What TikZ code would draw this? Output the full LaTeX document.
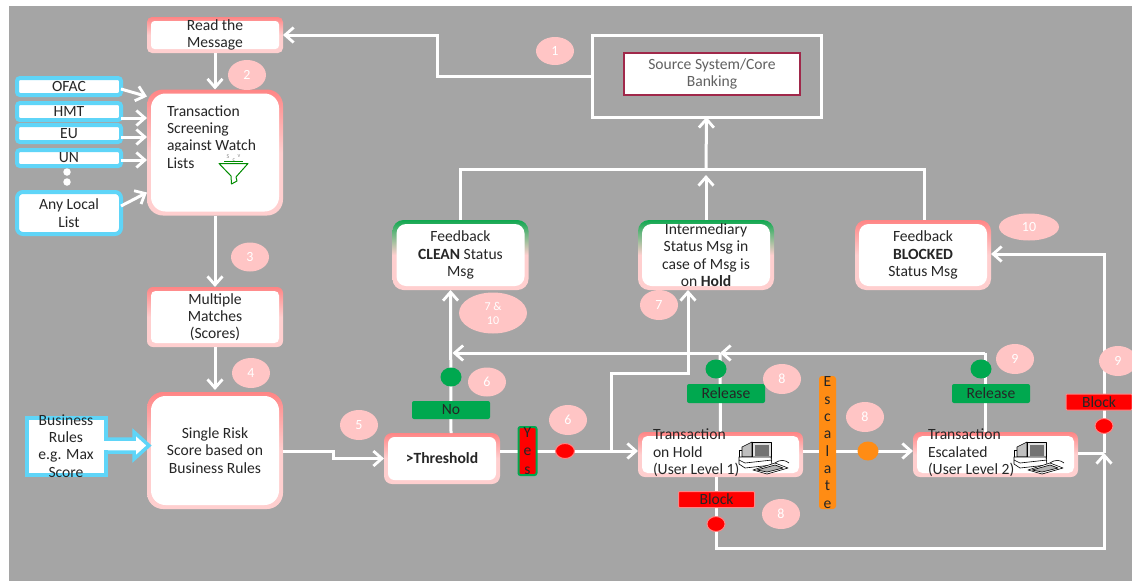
\documentclass[tikz,border=0pt]{standalone}
\usepackage{fontspec}
\setmainfont{Carlito}
\usetikzlibrary{arrows.meta,shapes.geometric}
\definecolor{bggray}{HTML}{A5A5A5}
\definecolor{pinkbub}{HTML}{FFC5C5}
\definecolor{redtop}{HTML}{FF8585}
\definecolor{pinklow}{HTML}{FFCFCF}
\definecolor{greentop}{HTML}{10A850}
\definecolor{listblue}{HTML}{5FD5F8}
\definecolor{taggreen}{HTML}{00A84F}
\definecolor{orangeb}{HTML}{FF8C14}
\definecolor{maroon}{HTML}{A0284A}
\definecolor{txt}{HTML}{262626}
\tikzset{
  every node/.style={font=\fontsize{15.6}{17.3}\selectfont,text=txt,inner sep=0pt,outer sep=0pt,align=center},
  softbox/.style n args={3}{minimum width=#1,minimum height=#2,rounded corners=#3,
    path picture={\fill[white,rounded corners=#3-1.5pt]
      ([xshift=4pt,yshift=-4pt]path picture bounding box.north west) rectangle
      ([xshift=-4pt,yshift=4pt]path picture bounding box.south east);}},
  redbox/.style={top color=redtop,bottom color=pinklow,middle color=pinklow},
  greenbox/.style={top color=greentop,bottom color=pinklow,middle color=pinklow},
  listbox/.style={draw=listblue,line width=4pt,fill=white,rounded corners=3pt,minimum width=104pt},
  flow/.style={draw=white,line width=3pt,line join=miter},
  tip/.style={flow,-{Straight Barb[length=8.5pt,width=15pt,line width=2.8pt]}},
  bub/.style={ellipse,fill=pinkbub,text=white,font=\fontsize{14}{15}\selectfont},
  gtag/.style={fill=taggreen,rounded corners=2pt,text=black!85},
  rtag/.style={fill=red,draw=redtop,line width=1pt,rounded corners=1pt,text=black!85},
  gdot/.style={ellipse,fill=taggreen,minimum width=21pt,minimum height=19pt},
  rdot/.style={ellipse,fill=red,draw=redtop,line width=1pt,minimum width=18pt,minimum height=15pt},
  pcline/.style={draw=black,line width=.6pt,line join=round},
}
\newcommand{\pcicon}[1]{%
  \begin{scope}[shift={(#1.center)},shift={(4.5,-24.5)}]
    \draw[pcline,fill=white] (14,20) -- (18,20) -- (18,27) -- (14,27) -- cycle;
    \draw[pcline,fill=black!25] (17,17) -- (27,12) -- (27,27) -- (17,27) -- cycle;
    \draw[pcline,fill=black!12] (27,12) rectangle (46,28);
    \fill[black!55] (30,15) rectangle (44,26);
    \draw[pcline,fill=white] (14,27) -- (46,27) -- (47,35) -- (20,38) -- (14,34) -- cycle;
    \draw[pcline] (14,30) -- (20,33) -- (47,30);
    \draw[pcline,fill=white] (28,40) -- (50,33) -- (63,38) -- (42,44) -- cycle;
    \draw[pcline,fill=black!30] (32,40) -- (50,35) -- (58,38) -- (42,42) -- cycle;
    \draw[pcline] (50,33) .. controls (56,29) and (60,30) .. (64,33);
  \end{scope}}
\begin{document}
\begin{tikzpicture}[x=1pt,y=-1pt]
\useasboundingbox (0,0) rectangle (1132,581);
\fill[white] (0,0) rectangle (1132,581);
\fill[bggray] (9,6) rectangle (1132,581);

% main boxes
\node[softbox={136pt}{36pt}{5pt},redbox] (read) at (215,35) {Read the\\Message};
\node[softbox={136pt}{126pt}{16pt},redbox] (screen) at (215,152.5) {};
\node[anchor=north west,align=left] (screentxt) at (167,105.5) {Transaction\\Screening\\against Watch\\Lists};
\fill[white] (165,151) rectangle (262,156);
\node[softbox={136pt}{60pt}{6pt},redbox] (multi) at (215,317) {Multiple\\Matches\\(Scores)};
\node[softbox={136pt}{117pt}{16pt},redbox] (single) at (215,450.5) {Single Risk\\Score based on\\Business Rules};
\node[softbox={116pt}{51pt}{8pt},redbox,font=\fontsize{15.6}{17.3}\selectfont\bfseries] (thresh) at (442,458.5) {>Threshold};
\node[softbox={136pt}{70pt}{11pt},greenbox] (clean) at (460.5,255) {Feedback\\\textbf{CLEAN} Status\\Msg};
\node[softbox={136pt}{70pt}{11pt},greenbox] (inter) at (706,255) {Intermediary\\Status Msg in\\case of Msg is\\on \textbf{Hold}};
\node[softbox={136pt}{70pt}{11pt},redbox] (blocked) at (923,255) {Feedback\\\textbf{BLOCKED}\\Status Msg};
\node[softbox={165pt}{45pt}{7pt},redbox] (hold) at (720.5,454.5) {};
\node[softbox={165pt}{45pt}{7pt},redbox] (esc) at (995.5,454.5) {};

% funnel
\draw[draw=green!55!black,line width=1pt,line join=round] (219,163.5) -- (248,163.5) -- (236,177) -- (237,181) -- (231.5,184) -- (231,176) -- cycle;
\draw[draw=green!55!black,line width=1pt] (224,161.5) -- (243,161.5);
\node[text=black!45,font=\fontsize{6}{6}\selectfont] (funS) at (228,157) {S};
\node[text=black!45,font=\fontsize{6}{6}\selectfont] (funC) at (234,160.5) {c};
\node[text=black!45,font=\fontsize{6}{6}\selectfont] (funV) at (239,156.5) {v};

% source
\node[draw=white,line width=3pt,minimum width=229pt,minimum height=82pt] (srcout) at (706.5,76) {};
\node[draw=maroon,line width=2pt,fill=white,minimum width=176pt,minimum height=42pt,text=black!62] (src) at (712,74) {Source System/Core\\Banking};

% list boxes
\node[listbox,minimum height=17pt] (ofac) at (69,86.5) {OFAC};
\node[listbox,minimum height=17pt] (hmt) at (69,111.5) {HMT};
\node[listbox,minimum height=17pt] (eu) at (69,133.5) {EU};
\node[listbox,minimum height=16pt] (un) at (69,158) {UN};
\node[listbox,minimum height=42pt,rounded corners=6pt] (anyl) at (69,213) {Any Local\\List};
\node[circle,fill=white,minimum size=7.5pt] (dota) at (67,172) {};
\node[circle,fill=white,minimum size=7.5pt] (dotb) at (67,182) {};

% connectors
\coordinate (c1a) at (437,76);
\coordinate (c1b) at (437,35);
\draw[tip] (srcout.west) -- (c1a) -- (c1b) -- (read.east);
\draw[tip] (read.south) -- (screen.north);
\draw[tip] (screen.south) -- (multi.north);
\draw[tip] (multi.south) -- ([yshift=2pt]single.north);
\draw[tip] ([yshift=-2.5pt]ofac.east) -- ([yshift=56pt]screen.west);
\draw[tip] ([yshift=-6.5pt]hmt.east) -- ([yshift=34.5pt]screen.west);
\draw[tip] ([yshift=-3.5pt]eu.east) -- ([yshift=15.5pt]screen.west);
\draw[tip] ([yshift=-2pt]un.east) -- ([yshift=-7.5pt]screen.west);
\draw[tip] ([yshift=7pt]anyl.east) -- ([yshift=-40pt]screen.west);
\coordinate (s5a) at (333,451);
\coordinate (s5b) at (333,458.5);
\draw[tip] (single.east |- s5a) -- (s5a) -- (s5b) -- (thresh.west);
\draw[tip] ([xshift=9pt]thresh.north) -- ([xshift=-10pt]clean.south);
\coordinate (yesy) at (611,451);
\draw[tip] ([yshift=7.5pt]thresh.east) -- ([yshift=3.5pt]hold.west);
\coordinate (up1) at (611,373);
\coordinate (up2) at (688,373);
\draw[tip] (yesy) -- (up1) -- (up2) -- ([xshift=-18pt]inter.south);
\coordinate (fbk) at (720,353);
\coordinate (fbk2) at (985,353);
\coordinate (fbkend) at (452.5,353);
\draw[flow] (hold.north) -- (fbk);
\draw[tip] (fbk) -- (fbkend);
\draw[flow] ([xshift=-10.5pt]esc.north) -- (fbk2);
\draw[tip] (fbk2) -- (fbk);
\draw[tip] ([yshift=3.5pt]hold.east) -- ([yshift=3.5pt]esc.west);
\coordinate (bus) at (706,169);
\coordinate (busl) at (460,169);
\coordinate (busr) at (924,169);
\draw[flow] (clean.north -| busl) -- (busl) -- (busr) -- (blocked.north -| busr);
\draw[tip] (inter.north) -- ([yshift=-6pt]bus);
\draw[tip] (bus) -- (srcout.south);
\coordinate (bot1) at (716,548);
\coordinate (bot2) at (1104,548);
\coordinate (joinpt) at (1104,453);
\coordinate (topr) at (1104,254);
\draw[tip] (hold.south -| bot1) -- (bot1) -- (bot2) -- (joinpt);
\draw[flow] (esc.east |- joinpt) -- (joinpt);
\draw[tip] (joinpt) -- (topr) -- (blocked.east |- topr);

% hold / escalated labels
\pcicon{hold}
\pcicon{esc}
\node[anchor=north west,align=left] (holdtxt) at (653,429) {Transaction\\on Hold\\(User Level 1)};
\node[anchor=north west,align=left] (esctxt) at (928,429) {Transaction\\Escalated\\(User Level 2)};

% business rules
\path[draw=listblue,line width=3.5pt,fill=white,line join=miter]
  (108,439) -- (134,439) -- (134,432) -- (149,445.5) -- (134,459) -- (134,452) -- (108,452);
\node[draw=listblue,line width=4pt,fill=white,minimum width=79pt,minimum height=57pt] (rules) at (66.5,446.5) {};
\fill[white] (104,441) rectangle (112,450);
\node (rulestxt) at (66,446) {Business\\Rules\\e.g. Max\\Score};

% tags and dots
\node[gtag,minimum width=78pt,minimum height=18pt] (no) at (451,410) {No};
\node[gdot] (nodot) at (451,377) {};
\node[fill=red,draw=taggreen,line width=2pt,rounded corners=2pt,minimum width=18pt,minimum height=48pt,text=black!85,font=\fontsize{15.6}{18.5}\selectfont] (yes) at (527.5,451) {Y\\e\\s};
\node[rdot,minimum width=19pt] (yesdot) at (565,451) {};
\node[gtag,minimum width=78pt,minimum height=19pt] (rel1) at (726,393.5) {Release};
\node[gdot] (rel1dot) at (716,369) {};
\node[gtag,minimum width=78pt,minimum height=19pt] (rel2) at (991,393.5) {Release};
\node[gdot] (rel2dot) at (981,369) {};
\node[rtag,minimum width=76pt,minimum height=16pt] (blk1) at (716.5,499.5) {Block};
\node[rdot] (blk1dot) at (716,524) {};
\node[rtag,minimum width=66pt,minimum height=16pt] (blk2) at (1099,402) {Block};
\node[rdot] (blk2dot) at (1104,426) {};
\node[fill=orangeb,rounded corners=3pt,minimum width=17pt,minimum height=133pt,text=black!85] (escal) at (827.5,442.5) {E\\s\\c\\a\\l\\a\\t\\e};
\node[ellipse,fill=orangeb,minimum width=21pt,minimum height=19pt] (escdot) at (868,451) {};

% number bubbles
\node[bub,minimum width=38pt,minimum height=28pt] (b1) at (555,51) {1};
\node[bub,minimum width=38pt,minimum height=30pt] (b2) at (247,75) {2};
\node[bub,minimum width=38pt,minimum height=29pt] (b3) at (250,257) {3};
\node[bub,minimum width=38pt,minimum height=30pt] (b4) at (251,373) {4};
\node[bub,minimum width=38pt,minimum height=30pt] (b5) at (359,425) {5};
\node[bub,minimum width=38pt,minimum height=29pt] (b6a) at (487,382) {6};
\node[bub,minimum width=38pt,minimum height=30pt] (b6b) at (568,420) {6};
\node[bub,minimum width=68pt,minimum height=41pt,font=\fontsize{12}{14}\selectfont] (b7a) at (493,313) {7 \&\\10};
\node[bub,minimum width=38pt,minimum height=30pt] (b7b) at (659,305) {7};
\node[bub,minimum width=38pt,minimum height=30pt] (b8a) at (782,379) {8};
\node[bub,minimum width=38pt,minimum height=30pt] (b8b) at (865,417) {8};
\node[bub,minimum width=38pt,minimum height=30pt] (b8c) at (781,514) {8};
\node[bub,minimum width=38pt,minimum height=30pt] (b9a) at (1015,359) {9};
\node[bub,minimum width=38pt,minimum height=30pt] (b9b) at (1118,361) {9};
\node[bub,minimum width=60pt,minimum height=27pt] (b10) at (1029,227) {10};
\end{tikzpicture}
\end{document}
